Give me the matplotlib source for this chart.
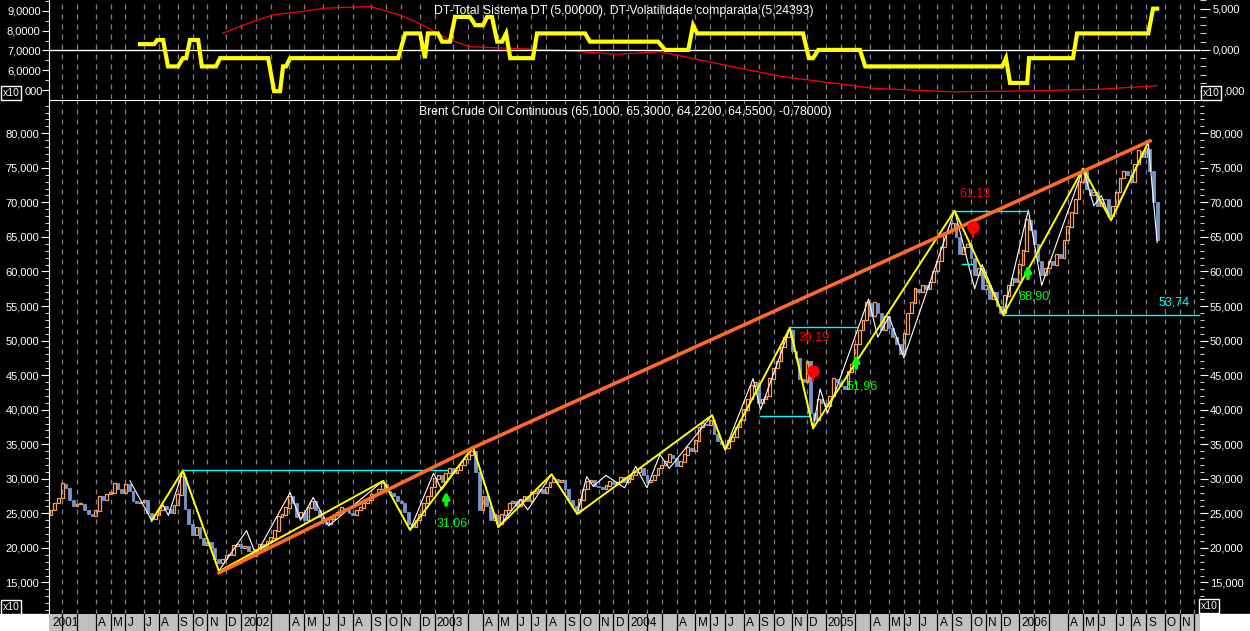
import numpy as np
import matplotlib.pyplot as plt
from matplotlib.ticker import MultipleLocator, FuncFormatter
from datetime import date, timedelta

plt.rcParams['font.family'] = ['Liberation Sans', 'DejaVu Sans']

# ---- weekly Brent closes (Friday bars from 2001-01-05) ----
first_open = 24.8
close_2001 = [25.5, 26.5, 27.2, 29.3, 28.6, 26.9, 26.1, 26.3, 26.4, 25.5,
              24.9, 24.6, 25.4, 27.5, 27.0, 27.8, 28.0, 29.4, 28.5, 28.0,
              29.2, 28.3, 26.8, 26.5, 26.6, 26.9, 25.0, 24.2, 24.8, 25.5,
              26.0, 25.6, 25.0, 26.2, 27.7, 30.3, 25.6, 23.4, 21.8, 23.0,
              21.5, 20.4, 20.8, 20.0, 18.4, 17.8, 18.4, 18.9, 19.0, 20.3,
              20.5, 20.0]
close_2002 = [20.2, 19.5, 18.8, 19.8, 20.5, 20.0, 21.0, 21.5, 22.5, 24.5,
              24.8, 25.8, 27.5, 26.5, 24.5, 25.2, 24.0, 25.8, 26.8, 25.5,
              24.5, 23.8, 23.5, 24.2, 24.8, 25.2, 25.8, 25.5, 25.0, 24.8,
              25.5, 25.8, 26.5, 27.0, 27.8, 27.8, 28.5, 29.3, 28.2, 28.0,
              27.5, 26.8, 26.5, 25.2, 23.5, 23.0, 24.0, 24.8, 26.5, 27.5,
              28.8, 30.0]
close_2003 = [30.5, 29.5, 30.8, 31.5, 30.8, 31.2, 32.0, 32.8, 33.5, 34.0,
              31.0, 25.5, 27.5, 26.0, 24.0, 24.8, 23.5, 24.8, 25.5, 26.5,
              26.8, 26.0, 27.0, 27.5, 26.8, 28.0, 28.2, 28.5, 28.0, 28.8,
              29.5, 30.0, 29.6, 29.8, 28.5, 27.0, 26.0, 25.5, 27.0, 28.5,
              29.6, 29.8, 29.0, 28.8, 28.5, 29.0, 29.6, 29.2, 29.5, 30.2,
              29.5, 30.0]
close_2004 = [30.5, 31.0, 31.5, 30.5, 29.5, 29.8, 30.5, 31.5, 32.0, 32.5,
              33.5, 33.0, 31.8, 32.5, 33.5, 34.5, 34.0, 35.5, 37.5, 38.0,
              37.8, 38.5, 36.5, 35.5, 35.0, 34.5, 35.5, 36.0, 37.5, 38.5,
              40.0, 41.5, 43.5, 44.0, 41.0, 41.5, 42.0, 44.5, 46.0, 47.0,
              49.0, 50.5, 51.5, 48.5, 47.5, 44.5, 44.0, 47.0, 39.5, 38.5,
              41.5, 41.0, 40.5]
close_2005 = [42.0, 44.5, 44.0, 43.5, 43.0, 45.5, 46.5, 49.5, 51.5, 53.0,
              55.5, 53.5, 55.5, 54.0, 51.5, 53.5, 51.8, 50.5, 49.5, 48.0,
              51.0, 54.0, 55.5, 57.5, 57.0, 58.0, 57.5, 58.5, 60.0, 61.5,
              63.5, 65.5, 66.0, 67.0, 65.0, 62.5, 63.5, 64.0, 62.0, 59.5,
              60.5, 57.5, 58.0, 56.0, 57.0, 55.0, 54.0, 56.5, 58.0, 59.0,
              58.5, 61.0]
close_2006 = [63.0, 67.5, 66.0, 64.0, 61.5, 59.5, 60.5, 61.5, 61.0, 62.5,
              62.0, 64.5, 66.5, 68.5, 70.5, 73.0, 74.5, 72.0, 71.0, 71.5,
              69.5, 70.5, 70.5, 68.0, 69.5, 71.5, 73.5, 74.5, 74.0, 73.0,
              75.5, 77.5, 76.5, 77.8, 74.5, 70.0, 64.55]

# major zigzag pivots (bar index, price)
zig_bar = [27.0, 35.4, 45.1, 89.2, 96.4, 113.3, 120.1, 134.4, 141.3, 177.5,
           181.0, 198.4, 204.6, 242.6, 255.7, 277.1, 284.6, 294.6]
zig_px = [23.9, 31.2, 16.6, 29.7, 22.6, 34.6, 23.0, 30.65, 24.9, 39.2,
          34.2, 51.8, 37.3, 68.8, 53.7, 74.9, 67.4, 78.7]

# minor zigzag pivots
minor_bar = [21.2, 27.0, 30.0, 31.5, 35.4, 45.1, 52.5, 55.0, 64.2, 67.0,
             70.4, 74.5, 89.2, 96.4, 102.7, 104.9, 113.3, 120.1, 126.0, 128.0,
             134.4, 141.3, 143.8, 145.6, 149.0, 154.0, 157.0, 160.0, 163.5,
             166.0, 177.5, 181.0, 188.5, 190.5, 198.4, 204.6, 206.5, 208.5,
             219.5, 222.0, 225.0, 229.0, 242.6, 248.0, 250.0, 255.7, 262.4,
             266.0, 277.1, 280.0, 282.0, 284.6, 294.6, 297.0]
minor_px = [29.7, 24.0, 26.3, 24.7, 31.1, 16.7, 22.5, 19.0, 28.0, 24.0,
            27.3, 23.2, 29.7, 22.6, 30.8, 28.4, 34.6, 23.0, 27.0, 25.5,
            30.65, 24.9, 30.3, 28.9, 30.5, 28.7, 31.8, 28.7, 33.5,
            31.5, 39.2, 34.2, 44.5, 40.0, 51.8, 37.3, 43.0, 39.5,
            56.0, 50.5, 53.5, 47.5, 68.8, 57.5, 61.0, 53.7, 68.9,
            58.0, 74.9, 69.5, 71.0, 67.4, 78.7, 64.2]

# long trend line
trend_bar = [45.1, 113.3, 295.1]
trend_px = [16.4, 34.5, 78.9]

# horizontal support / resistance lines: start bar, end bar, price
level_start = [35.4, 190.4, 198.2, 242.5, 244.6, 255.6]
level_end = [106.3, 203.8, 216.4, 262.4, 247.3, 308.5]
level_px = [31.2, 39.1, 51.9, 68.8, 61.1, 53.7]

# buy / stop signals
buy_bar = [106.1, 216.2, 262.3]
buy_px = [27.2, 47.0, 60.0]
buy_text = ['31,06', '51,96', '68,90']
stop_bar = [204.5, 247.5]
stop_px = [45.6, 66.5]
stop_text = ['39,19', '61,13']
support_text = '53,74'

# DT system (right scale of top panel)
dt_bar = [23.9, 27.7, 28.5, 30.1, 31.4, 34.1, 35.4, 36.3, 37.3, 39.5,
          40.5, 44.3, 45.4, 58.3, 59.9, 61.5, 62.3, 63.1, 64.2, 93.2,
          95.1, 99.1, 100.4, 101.2, 103.9, 105.0, 107.1, 108.5, 112.5, 113.9,
          116.0, 117.1, 118.4, 119.8, 121.1, 122.2, 123.3, 129.4, 130.5, 143.4,
          144.7, 163.0, 164.9, 171.1, 172.4, 173.5, 201.9, 203.5, 204.6, 206.0,
          217.2, 218.6, 255.4, 256.4, 257.5, 262.1, 262.6, 274.4, 275.5, 294.6,
          295.9, 297.0]
dt_val = [0.7, 0.7, 1.2, 1.2, -2, -2, -1, -1, 1.2, 1.2,
          -2, -2, -1, -1, -5, -5, -2, -2, -1, -1,
          2, 2, -1, 2, 2, 1, 1, 4, 4, 3,
          3, 4, 4, 1, 1, 2, -1, -1, 2, 2,
          1, 1, 0, 0, 3, 2, 2, -1, -1, 0,
          0, -2, -2, -1, -4, -4, -1, -1, 2, 2,
          5, 5]

# volatility (left scale of top panel)
vol_bar = [46.1, 53.4, 59.6, 66.9, 73.6, 85.7, 93.7, 99.1, 107.1, 112.5,
           123.3, 138.5, 151.9, 163.5, 174.3, 183.1, 196.6, 209.2, 220.7, 242.2,
           262.9, 280.9, 295.9, 297.0]
vol_val = [7.87, 8.40, 8.79, 8.95, 9.13, 9.21, 8.79, 8.34, 7.53, 7.19,
           7.11, 6.99, 6.81, 6.94, 6.52, 6.18, 5.68, 5.38, 5.10, 4.92,
           4.97, 5.05, 5.21, 5.24]

month_letters = ['J', 'F', 'M', 'A', 'M', 'J', 'J', 'A', 'S', 'O', 'N', 'D']

# ---- derived ----
closes = np.array(close_2001 + close_2002 + close_2003 + close_2004 + close_2005 + close_2006)
opens = np.concatenate([[first_open], closes[:-1]])
idx = np.arange(len(closes))
n_total = 310
bar_dates = [date(2001, 1, 5) + timedelta(weeks=k) for k in range(n_total)]
month_start = [k for k in range(1, n_total) if bar_dates[k].month != bar_dates[k - 1].month]
grid_pos = [k - 1 for k in month_start]

XL = (-0.54, 308.5)
ORANGE = '#f7a061'
BLUE = '#7896c8'
GRID = '#808080'

W, H = 1250, 631
fig = plt.figure(figsize=(W / 100, H / 100), dpi=100, facecolor='black')
ax_t = fig.add_axes([49 / W, 1 - 99 / H, 1151 / W, 99 / H])
ax_m = fig.add_axes([49 / W, 1 - 614 / H, 1151 / W, 514 / H])
ax_d = fig.add_axes([49 / W, 0, 1151 / W, 17 / H])
fig.patches.append(plt.Rectangle((0, 0), 1, 17 / H, transform=fig.transFigure,
                                 color='white', zorder=-1))

def fmt(nd, hidden=None):
    def f(v, _):
        if hidden is not None and abs(v - hidden) < 1e-6:
            return ''
        return f"{v:.{nd}f}".replace('.', ',')
    return FuncFormatter(f)

def style(ax):
    ax.set_facecolor('black')
    for s in ['top', 'bottom', 'right']:
        ax.spines[s].set_visible(False)
    ax.spines['left'].set_color('white')
    ax.tick_params(axis='x', bottom=False, labelbottom=False)
    ax.tick_params(axis='y', which='major', colors='white', labelsize=8, length=5, pad=1)
    ax.tick_params(axis='y', which='minor', colors='white', length=3)
    for g in grid_pos:
        ax.axvline(g, color=GRID, lw=0.9, ls=(0, (4, 4)), zorder=0)
    ax.set_xlim(*XL)

# ---- top panel ----
style(ax_t)
ax_t.set_ylim(4.56, 9.54)
ax_t.yaxis.set_major_locator(MultipleLocator(1))
ax_t.yaxis.set_minor_locator(MultipleLocator(0.5))
ax_t.yaxis.set_major_formatter(fmt(4, hidden=5))
ax_t.plot(vol_bar, vol_val, color='#ff0000', lw=0.9, zorder=3)
ax_t2 = ax_t.twinx()
ax_t2.set_ylim(-5.95, 6.05)
for s in ['top', 'bottom', 'right', 'left']:
    ax_t2.spines[s].set_visible(False)
ax_t2.yaxis.set_major_locator(MultipleLocator(5))
ax_t2.yaxis.set_minor_locator(MultipleLocator(1))
ax_t2.yaxis.set_major_formatter(fmt(3, hidden=-5))
ax_t2.tick_params(axis='y', which='major', colors='white', labelsize=8, length=7, pad=2)
ax_t2.tick_params(axis='y', which='minor', colors='white', length=4)
ax_t2.axhline(0, color='white', lw=1, zorder=2)
ax_t2.plot(dt_bar, dt_val, color='#ffff00', lw=3, solid_joinstyle='miter', zorder=4)
ax_t2.set_xlim(*XL)

# ---- main panel ----
style(ax_m)
ax_m.spines['top'].set_visible(True)
ax_m.spines['top'].set_color('white')
ax_m.set_ylim(10.43, 84.82)
ax_m.yaxis.set_major_locator(MultipleLocator(5))
ax_m.yaxis.set_minor_locator(MultipleLocator(1))
ax_m.yaxis.set_major_formatter(fmt(3))
ax_m.tick_params(axis='y', which='both', right=True, labelright=True)
ax_m.tick_params(axis='y', which='major', length=6)

up = closes >= opens
ax_m.bar(idx[up], (closes - opens)[up] + 0.05, bottom=opens[up], width=0.75,
         facecolor='none', edgecolor=ORANGE, lw=0.9, zorder=2)
ax_m.bar(idx[~up], (opens - closes)[~up], bottom=closes[~up], width=0.75,
         facecolor=BLUE, edgecolor=BLUE, lw=0.6, zorder=2)

ax_m.plot(minor_bar, minor_px, color='white', lw=0.8, zorder=3)
for s, e, p in zip(level_start, level_end, level_px):
    ax_m.plot([s, e], [p, p], color='#00ffff', lw=1, zorder=3)
ax_m.plot(zig_bar, zig_px, color='#ffff00', lw=1.4, zorder=4)
ax_m.plot(trend_bar, trend_px, color='#ff6a28', lw=2.6, zorder=5)

for b, p, t in zip(buy_bar, buy_px, buy_text):
    ax_m.annotate('', xy=(b, p + 1.0), xytext=(b, p - 1.0),
                  arrowprops=dict(arrowstyle='-|>', color='#00ff00', lw=2.6,
                                  mutation_scale=9, shrinkA=0, shrinkB=0), zorder=6)
    ax_m.text(b + 1.5, p - 3.6, t, color='#00ff00', fontsize=9, ha='center', va='center', zorder=6)
for b, p, t in zip(stop_bar, stop_px, stop_text):
    ax_m.plot([b, b], [p, p - 1.5], color='#ff0000', lw=1.6, zorder=6)
    ax_m.plot(b, p, 'o', color='#ff0000', ms=8, zorder=6)
    ax_m.text(b + 0.5, p + 4.8, t, color='#ff0000', fontsize=9, ha='center', va='center', zorder=6)
ax_m.text(level_end[-1] - 7, level_px[-1] + 1.8, support_text, color='#00ffff',
          fontsize=9, ha='center', va='center', zorder=6)

# ---- date strip ----
ax_d.set_facecolor('#c0c0c0')
for s in ax_d.spines.values():
    s.set_visible(False)
ax_d.set_xlim(*XL)
ax_d.set_ylim(0, 1)
ax_d.set_xticks([])
ax_d.set_yticks([])
for g, k in zip(grid_pos, month_start):
    ax_d.axvline(g, color='black', lw=0.9)
    m = bar_dates[k].month
    if m == 1:
        lab = str(bar_dates[k].year)
    elif m in (2, 3) or g > XL[1] - 3:
        lab = ''
    else:
        lab = month_letters[m - 1]
    ax_d.text(g + 0.6, 0.45, lab, color='black', fontsize=8.5, ha='left', va='center')
ax_d.text(0.3, 0.45, '2001', color='black', fontsize=8.5, ha='left', va='center')

# ---- titles and scale boxes ----
fig.text(624 / W, 1 - 11 / H, 'DT-Total Sistema DT (5,00000), DT-Volatilidade comparada (5,24393)',
         color='white', fontsize=8.8, ha='center', va='center')
fig.text(625 / W, 1 - 112 / H, 'Brent Crude Oil Continuous (65,1000, 65,3000, 64,2200, 64,5500, -0,78000)',
         color='white', fontsize=8.7, ha='center', va='center')
for x, y in [(11, 93), (11, 607), (1211, 93), (1209, 606)]:
    fig.text(x / W, 1 - y / H, 'x10', color='white', fontsize=7.5, ha='center', va='center',
             bbox=dict(facecolor='black', edgecolor='white', boxstyle='square,pad=0.15', lw=1))
# visible remainders of the bottom labels of the top panel
fig.text(43 / W, 1 - 92 / H, '000', color='white', fontsize=8, ha='right', va='center')
fig.text(1223 / W, 1 - 92 / H, ',000', color='white', fontsize=8, ha='left', va='center')

fig.savefig('out.png', dpi=100, facecolor='black')
